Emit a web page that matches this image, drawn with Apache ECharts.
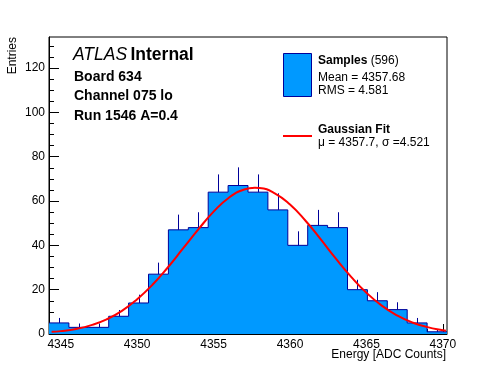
<!DOCTYPE html>
<html><head><meta charset="utf-8">
<script src="https://cdn.jsdelivr.net/npm/echarts@6/dist/echarts.min.js"></script>
<style>html,body{margin:0;padding:0;background:#fff}#c{width:496px;height:372px}</style>
</head><body><div id="c"></div>
<script>
// ---- data ----
const binLow = 4344.23;
const binWidth = 1.302;
const counts = [5, 3, 3, 8, 14, 27, 47, 48, 64, 67, 64, 56, 40, 49, 48, 20, 15, 11, 5, 1];
const fitX = [4344.4, 4345, 4346, 4347, 4348, 4349, 4350, 4351, 4352, 4353, 4354, 4355, 4356, 4357, 4357.7, 4358, 4359, 4360, 4361, 4362, 4363, 4364, 4365, 4366, 4367, 4368, 4369, 4370, 4370.2];
const fitY = [1.0, 1.3, 2.3, 4.0, 6.6, 10.4, 15.7, 22.2, 30.0, 38.6, 47.2, 55.2, 61.5, 65.2, 66.0, 65.9, 63.5, 58.4, 51.2, 42.8, 34.0, 25.8, 18.6, 12.8, 8.4, 5.2, 3.1, 1.7, 1.5];
const xMajorTicks = [4345, 4350, 4355, 4360, 4365, 4370];
const xMinorTicks = [4345, 4346, 4347, 4348, 4349, 4350, 4351, 4352, 4353, 4354, 4355, 4356, 4357, 4358, 4359, 4360, 4361, 4362, 4363, 4364, 4365, 4366, 4367, 4368, 4369, 4370];
const yMajorTicks = [0, 20, 40, 60, 80, 100, 120];
const yMinorTicks = [0, 5, 10, 15, 20, 25, 30, 35, 40, 45, 50, 55, 60, 65, 70, 75, 80, 85, 90, 95, 100, 105, 110, 115, 120, 125, 130];
const xMin = 4344.23, xMax = 4370.27, yMin = 0, yMax = 134;

// ---- derived ----
const edges = counts.map((c, i) => binLow + i * binWidth);
edges.push(binLow + counts.length * binWidth);
const stepData = counts.map((c, i) => [edges[i], c]);
stepData.push([edges[counts.length], counts[counts.length - 1]]);
const errData = counts.map((c, i) => [edges[i] + binWidth / 2, c, c + Math.sqrt(c)]);
const fitData = fitX.map((x, i) => [x, fitY[i]]);

const FF = '"Liberation Sans", Arial, Helvetica, sans-serif';
const BLUE = '#0099ff', NAVY = '#000099';

const chart = echarts.init(document.getElementById('c'));
const tickLine = {color: '#000', width: 1};
chart.setOption({
  animation: false,
  backgroundColor: '#fff',
  grid: {left: 49, right: 49, top: 37, bottom: 38, show: true, borderColor: '#000', borderWidth: 1, backgroundColor: 'transparent'},
  xAxis: [
    {type: 'value', min: xMin, max: xMax, position: 'bottom',
     axisLine: {show: true, onZero: false, lineStyle: tickLine},
     axisTick: {show: true, inside: true, length: 10, customValues: xMajorTicks, lineStyle: tickLine},
     axisLabel: {customValues: xMajorTicks, color: '#000', fontSize: 12, fontFamily: FF, margin: 5, formatter: v => String(v)},
     splitLine: {show: false}},
    {type: 'value', min: xMin, max: xMax, position: 'bottom',
     axisLine: {show: false},
     axisTick: {show: true, inside: true, length: 5, customValues: xMinorTicks, lineStyle: tickLine},
     axisLabel: {show: false}, splitLine: {show: false}}
  ],
  yAxis: [
    {type: 'value', min: yMin, max: yMax, position: 'left',
     axisLine: {show: true, onZero: false, lineStyle: tickLine},
     axisTick: {show: true, inside: true, length: 10, customValues: yMajorTicks, lineStyle: tickLine},
     axisLabel: {customValues: yMajorTicks, color: '#000', fontSize: 12, fontFamily: FF, margin: 4, formatter: v => String(v)},
     splitLine: {show: false}},
    {type: 'value', min: yMin, max: yMax, position: 'left',
     axisLine: {show: false},
     axisTick: {show: true, inside: true, length: 5, customValues: yMinorTicks, lineStyle: tickLine},
     axisLabel: {show: false}, splitLine: {show: false}}
  ],
  series: [
    {type: 'line', xAxisIndex: 0, yAxisIndex: 0, data: stepData, step: 'end', symbol: 'none',
     lineStyle: {color: NAVY, width: 1}, areaStyle: {color: BLUE, opacity: 1, origin: 'start'}, z: 2},
    {type: 'custom', xAxisIndex: 0, yAxisIndex: 0, data: errData, z: 3,
     renderItem: function (params, api) {
       const p0 = api.coord([api.value(0), api.value(1)]);
       const p1 = api.coord([api.value(0), api.value(2)]);
       return {type: 'line', shape: {x1: Math.round(p0[0]) + 0.5, y1: p0[1], x2: Math.round(p1[0]) + 0.5, y2: p1[1]},
               style: {stroke: NAVY, lineWidth: 1}};
     }},
    {type: 'line', xAxisIndex: 0, yAxisIndex: 0, data: fitData, smooth: true, symbol: 'none',
     lineStyle: {color: '#ff0000', width: 2}, z: 4}
  ],
  graphic: [
    {type: 'text', left: 73, top: 46, style: {text: '{i|ATLAS} {b|Internal}', rich: {
      i: {fontStyle: 'italic', fontSize: 17.5, fontFamily: FF, fill: '#000'},
      b: {fontWeight: 'bold', fontSize: 17.5, fontFamily: FF, fill: '#000'}}}},
    {type: 'text', x: 74, y: 77, style: {text: 'Board 634', fontWeight: 'bold', fontSize: 14, fontFamily: FF, fill: '#000', verticalAlign: 'middle'}},
    {type: 'text', x: 74, y: 96.5, style: {text: 'Channel 075 lo', fontWeight: 'bold', fontSize: 14, fontFamily: FF, fill: '#000', verticalAlign: 'middle'}},
    {type: 'text', x: 74, y: 116.5, style: {text: 'Run 1546 A=0.4', fontWeight: 'bold', fontSize: 14, fontFamily: FF, fill: '#000', verticalAlign: 'middle'}},
    {type: 'rect', shape: {x: 283.5, y: 53.5, width: 28, height: 43}, style: {fill: BLUE, stroke: NAVY, lineWidth: 1}},
    {type: 'text', x: 318, y: 61, style: {text: '{b|Samples} (596)', fontSize: 12, fontFamily: FF, fill: '#000', verticalAlign: 'middle',
      rich: {b: {fontWeight: 'bold', fontSize: 12, fontFamily: FF, fill: '#000'}}}},
    {type: 'text', x: 318, y: 77.5, style: {text: 'Mean = 4357.68', fontSize: 12, fontFamily: FF, fill: '#000', verticalAlign: 'middle'}},
    {type: 'text', x: 318, y: 91, style: {text: 'RMS = 4.581', fontSize: 12, fontFamily: FF, fill: '#000', verticalAlign: 'middle'}},
    {type: 'line', shape: {x1: 283, y1: 136, x2: 312, y2: 136}, style: {stroke: '#ff0000', lineWidth: 2}},
    {type: 'text', x: 318, y: 129.5, style: {text: 'Gaussian Fit', fontWeight: 'bold', fontSize: 12, fontFamily: FF, fill: '#000', verticalAlign: 'middle'}},
    {type: 'text', x: 318, y: 142.5, style: {text: 'μ = 4357.7, σ =4.521', fontSize: 12, fontFamily: FF, fill: '#000', verticalAlign: 'middle'}},
    {type: 'text', x: 446, y: 355, style: {text: 'Energy [ADC Counts]', fontSize: 12, fontFamily: FF, fill: '#000', align: 'right', verticalAlign: 'middle'}},
    {type: 'text', x: 13, y: 37, rotation: Math.PI / 2, style: {text: 'Entries', fontSize: 12, fontFamily: FF, fill: '#000', align: 'right', verticalAlign: 'middle'}}
  ]
});
</script>
</body></html>
